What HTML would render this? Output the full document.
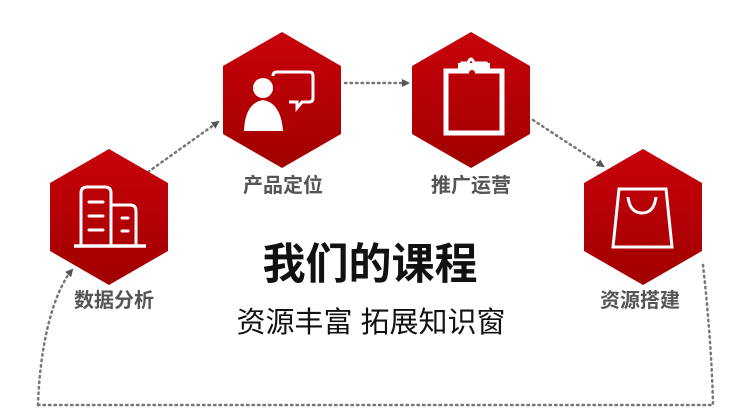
<!DOCTYPE html>
<html><head><meta charset="utf-8"><style>
html,body{margin:0;padding:0;background:#fff;}
body{width:750px;height:417px;position:relative;overflow:hidden;font-family:"Liberation Sans","Noto Sans CJK SC",sans-serif;}
.lbl{position:absolute;width:140px;text-align:center;font-size:20px;font-weight:bold;color:#555;line-height:22px;}
</style></head><body>
<svg width="750" height="417" style="position:absolute;left:0;top:0">
<defs>
<linearGradient id="g" x1="0" y1="0" x2="0" y2="1"><stop offset="0" stop-color="#c8020b"/><stop offset="1" stop-color="#a00000"/></linearGradient>
<marker id="a" markerWidth="8" markerHeight="8" refX="6" refY="4" orient="auto" markerUnits="userSpaceOnUse"><path d="M0,0 L8,4 L0,8 Z" fill="#555"/></marker>
</defs>
<g fill="none" stroke="#777" stroke-width="2.5" stroke-dasharray="1.5 4" stroke-linecap="round">
<path d="M148,172 L218,122" marker-end="url(#a)"/>
<path d="M345,83 L408,83" marker-end="url(#a)"/>
<path d="M533,120 L603,166" marker-end="url(#a)"/>
<path d="M38,405 C40,340 55,290 72,270" marker-end="url(#a)"/>
<path d="M703,265 C708,310 712,360 713,405"/>
<path d="M38,405 L713,405"/>
</g>
<g fill="url(#g)">
<polygon points="109,149 168,183 168,251 109,285 50,251 50,183"/>
<polygon points="282,32 341,66 341,134 282,168 223,134 223,66"/>
<polygon points="471,32 530,66 530,134 471,168 412,134 412,66"/>
<polygon points="643,149 702,183 702,251 643,285 584,251 584,183"/>
</g>
<g fill="none" stroke="#fff" stroke-width="3">
<path d="M81,245 L81,193 Q81,187 87,187 L105,187 Q111,187 111,193 L111,245"/>
<path d="M111,205 L130,205 Q136,205 136,211 L136,245"/>
<path d="M74,246 L146,246" stroke-width="3.5"/>
<path d="M89,202 L103,202 M89,216 L103,216 M89,230 L103,230 M122,218 L128,218 M122,231 L128,231" stroke-linecap="round"/>
<path d="M273,76 Q273,72 277,72 L309,72 Q313,72 313,76 L313,98 Q313,102 309,102 L302,102 L297,108 L297,102 L289,102"/>
<path d="M446,71 L502,71 L502,133 L446,133 Z" stroke-width="5"/>
<path d="M462,69 L462,63 L468,63 Q471,55 474,63 L486,63 L486,69"/>
<path d="M619,189 L666,189 L672,247 L613,247 Z"/>
<path d="M628,197 Q630,213 642,213 Q654,213 656,197"/>
</g>
<g fill="#fff">
<circle cx="263" cy="88" r="10"/>
<path d="M244,131 Q245,103 263,100 Q281,103 283,131 Z"/>
<rect x="458" y="63" width="32" height="8"/>
</g>
<circle cx="472" cy="73" r="3" fill="#b00"/>
</svg>
<div class="lbl" style="left:44px;top:290px">数据分析</div>
<div class="lbl" style="left:213px;top:175px">产品定位</div>
<div class="lbl" style="left:401px;top:175px">推广运营</div>
<div class="lbl" style="left:570px;top:290px">资源搭建</div>
<div style="position:absolute;left:0;width:740px;top:240px;text-align:center;font-size:43px;font-weight:bold;color:#111;line-height:50px;">我们的课程</div>
<div style="position:absolute;left:0;width:742px;top:305px;text-align:center;font-size:29px;color:#111;line-height:36px;">资源丰富 拓展知识窗</div>
</body></html>
